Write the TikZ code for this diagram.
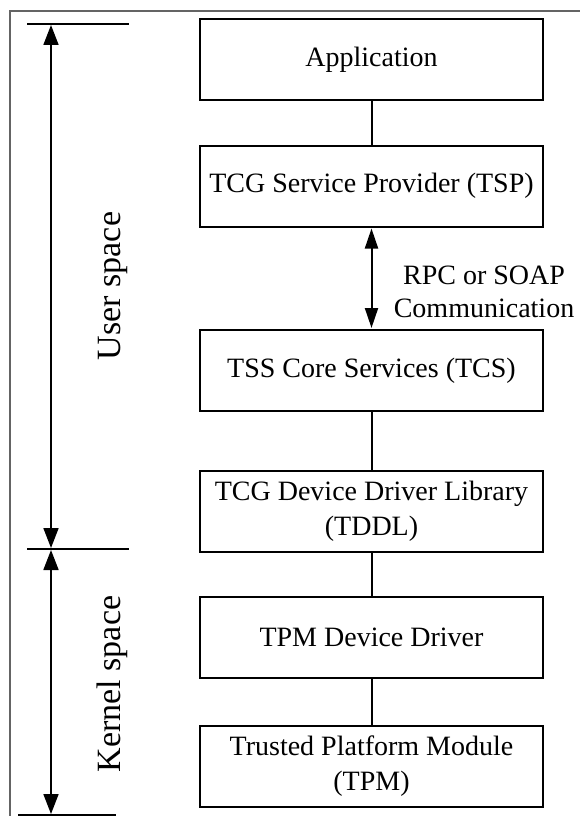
\documentclass[tikz,border=0pt]{standalone}
\usepackage{fontspec}
\setmainfont{Liberation Serif}
\usetikzlibrary{arrows.meta}
\definecolor{framegray}{RGB}{100,100,100}
\begin{document}
\begin{tikzpicture}[x=1pt,y=-1pt,
  layerbox/.style={draw=black,line width=2pt,minimum width=343pt,minimum height=81pt,
    inner sep=0pt,align=center,font=\fontsize{28}{35}\selectfont},
  link/.style={draw=black,line width=2pt},
  dimline/.style={draw=black,line width=1.8pt},
  dimarrow/.style={draw=black,line width=1.8pt,{Triangle[length=20pt,width=15pt]}-{Triangle[length=20pt,width=15pt]},shorten <=1pt,shorten >=1pt},
  sidelabel/.style={rotate=90,anchor=base,inner sep=0pt,font=\fontsize{34}{40}\selectfont},
  frameline/.style={draw=framegray,line width=1.8pt}]
\useasboundingbox (0,0) rectangle (580,816);
% frame (top and left edges)
\coordinate (fr1) at (581,11);
\coordinate (fr2) at (10,11);
\coordinate (fr3) at (10,817);
\draw[frameline] (fr1) -- (fr2) -- (fr3);
% boxes
\node[layerbox] (app)   at (371.5,59.5)  {Application};
\node[layerbox] (tsp)   at (371.5,186)   {TCG Service Provider (TSP)};
\node[layerbox] (tcs)   at (371.5,370.5) {TSS Core Services (TCS)};
\node[layerbox] (tddl)  at (371.5,511)   {TCG Device Driver Library\\(TDDL)};
\node[layerbox] (tpmdd) at (371.5,637.5) {TPM Device Driver};
\node[layerbox] (tpm)   at (371.5,766)   {Trusted Platform Module\\(TPM)};
% connectors
\draw[link] (app.south) -- (tsp.north);
\draw[dimarrow,line width=2pt,{Triangle[length=20pt,width=13pt]}-{Triangle[length=20pt,width=13pt]}] (tsp.south) -- (tcs.north);
\draw[link] (tcs.south) -- (tddl.north);
\draw[link] (tddl.south) -- (tpmdd.north);
\draw[link] (tpmdd.south) -- (tpm.north);
\node[align=center,inner sep=0pt,font=\fontsize{28}{33}\selectfont] (rpc) at (484,292) {RPC or SOAP\\Communication};
% left dimension lines
\coordinate (t1) at (27,24);  \coordinate (t2) at (129,24);
\coordinate (m1) at (27,549); \coordinate (m2) at (129,549);
\coordinate (b1) at (18,815); \coordinate (b2) at (116,815);
\draw[dimline] (t1) -- (t2);
\draw[dimline] (m1) -- (m2);
\draw[dimline] (b1) -- (b2);
\coordinate (ut) at (51,24);
\coordinate (um) at (51,549);
\coordinate (ub) at (51,815);
\draw[dimarrow] (ut) -- (um);
\draw[dimarrow] (um) -- (ub);
\node[sidelabel] (user) at (120,286) {User space};
\node[sidelabel] (kernel) at (120,684) {Kernel space};
\end{tikzpicture}
\end{document}
